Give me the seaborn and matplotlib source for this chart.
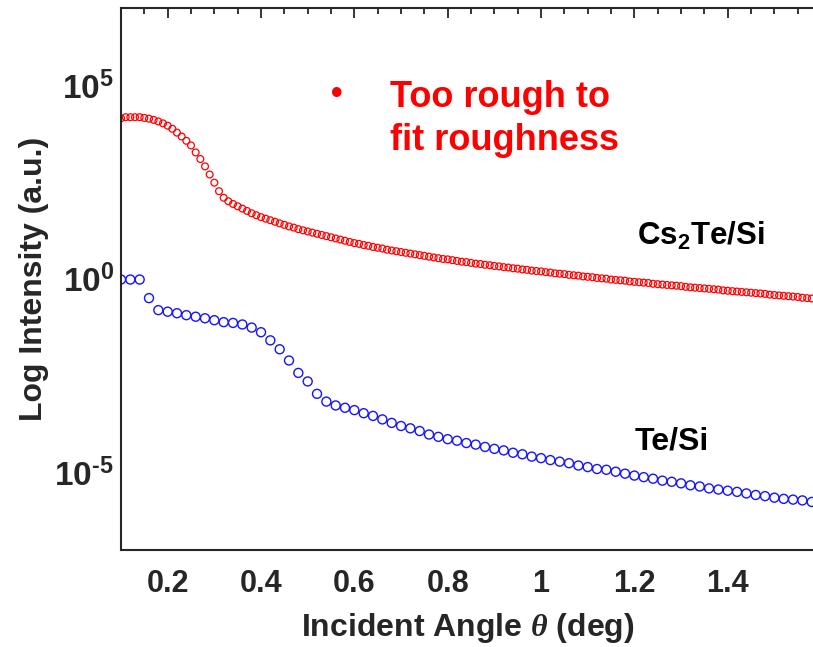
import numpy as np
import pandas as pd
import matplotlib
matplotlib.use("Agg")
import matplotlib.pyplot as plt
import seaborn as sns
from matplotlib.ticker import FixedLocator, FixedFormatter, MultipleLocator, NullFormatter

# ---------------- data ----------------
angle_cs2te = [
    0.10, 0.11, 0.12, 0.13, 0.14, 0.15, 0.16, 0.17, 0.18, 0.19,
    0.20, 0.21, 0.22, 0.23, 0.24, 0.25, 0.26, 0.27, 0.28, 0.29,
    0.30, 0.31, 0.32, 0.33, 0.34, 0.35, 0.36, 0.37, 0.38, 0.39,
    0.40, 0.41, 0.42, 0.43, 0.44, 0.45, 0.46, 0.47, 0.48, 0.49,
    0.50, 0.51, 0.52, 0.53, 0.54, 0.55, 0.56, 0.57, 0.58, 0.59,
    0.60, 0.61, 0.62, 0.63, 0.64, 0.65, 0.66, 0.67, 0.68, 0.69,
    0.70, 0.71, 0.72, 0.73, 0.74, 0.75, 0.76, 0.77, 0.78, 0.79,
    0.80, 0.81, 0.82, 0.83, 0.84, 0.85, 0.86, 0.87, 0.88, 0.89,
    0.90, 0.91, 0.92, 0.93, 0.94, 0.95, 0.96, 0.97, 0.98, 0.99,
    1.00, 1.01, 1.02, 1.03, 1.04, 1.05, 1.06, 1.07, 1.08, 1.09,
    1.10, 1.11, 1.12, 1.13, 1.14, 1.15, 1.16, 1.17, 1.18, 1.19,
    1.20, 1.21, 1.22, 1.23, 1.24, 1.25, 1.26, 1.27, 1.28, 1.29,
    1.30, 1.31, 1.32, 1.33, 1.34, 1.35, 1.36, 1.37, 1.38, 1.39,
    1.40, 1.41, 1.42, 1.43, 1.44, 1.45, 1.46, 1.47, 1.48, 1.49,
    1.50, 1.51, 1.52, 1.53, 1.54, 1.55, 1.56, 1.57, 1.58,
]
log_intensity_cs2te = [
    4.14, 4.17, 4.17, 4.17, 4.17, 4.15, 4.13, 4.10, 4.06, 4.01,
    3.95, 3.87, 3.77, 3.67, 3.56, 3.44, 3.26, 3.09, 2.90, 2.69,
    2.48, 2.26, 2.09, 2.00, 1.93, 1.87, 1.81, 1.75, 1.69, 1.64,
    1.59, 1.55, 1.51, 1.47, 1.43, 1.39, 1.35, 1.32, 1.28, 1.25,
    1.22, 1.19, 1.16, 1.13, 1.10, 1.07, 1.04, 1.01, 0.98, 0.95,
    0.92, 0.90, 0.87, 0.85, 0.82, 0.80, 0.78, 0.75, 0.73, 0.71,
    0.69, 0.67, 0.65, 0.63, 0.61, 0.59, 0.57, 0.55, 0.53, 0.51,
    0.50, 0.48, 0.46, 0.44, 0.43, 0.41, 0.39, 0.38, 0.36, 0.35,
    0.33, 0.32, 0.30, 0.29, 0.27, 0.26, 0.24, 0.23, 0.21, 0.20,
    0.19, 0.17, 0.16, 0.14, 0.13, 0.12, 0.10, 0.09, 0.08, 0.06,
    0.05, 0.04, 0.02, 0.01, 0.00, -0.02, -0.03, -0.04, -0.05, -0.07,
    -0.08, -0.09, -0.10, -0.11, -0.13, -0.14, -0.15, -0.16, -0.17, -0.18,
    -0.19, -0.21, -0.22, -0.23, -0.24, -0.25, -0.26, -0.27, -0.28, -0.30,
    -0.31, -0.32, -0.33, -0.34, -0.35, -0.36, -0.37, -0.38, -0.39, -0.41,
    -0.42, -0.43, -0.44, -0.45, -0.46, -0.47, -0.49, -0.50, -0.51,
]

angle_te = [
    0.10, 0.12, 0.14, 0.16, 0.18, 0.20, 0.22, 0.24, 0.26, 0.28,
    0.30, 0.32, 0.34, 0.36, 0.38, 0.40, 0.42, 0.44, 0.46, 0.48,
    0.50, 0.52, 0.54, 0.56, 0.58, 0.60, 0.62, 0.64, 0.66, 0.68,
    0.70, 0.72, 0.74, 0.76, 0.78, 0.80, 0.82, 0.84, 0.86, 0.88,
    0.90, 0.92, 0.94, 0.96, 0.98, 1.00, 1.02, 1.04, 1.06, 1.08,
    1.10, 1.12, 1.14, 1.16, 1.18, 1.20, 1.22, 1.24, 1.26, 1.28,
    1.30, 1.32, 1.34, 1.36, 1.38, 1.40, 1.42, 1.44, 1.46, 1.48,
    1.50, 1.52, 1.54, 1.56, 1.58,
]
log_intensity_te = [
    -0.02, -0.02, -0.02, -0.50, -0.81, -0.85, -0.89, -0.94, -0.98, -1.02,
    -1.07, -1.12, -1.14, -1.18, -1.26, -1.38, -1.59, -1.82, -2.11, -2.43,
    -2.65, -2.97, -3.17, -3.27, -3.33, -3.39, -3.47, -3.54, -3.63, -3.72,
    -3.80, -3.86, -3.93, -4.02, -4.08, -4.14, -4.18, -4.24, -4.28, -4.34,
    -4.39, -4.43, -4.49, -4.53, -4.59, -4.63, -4.68, -4.72, -4.76, -4.82,
    -4.86, -4.91, -4.93, -4.98, -5.03, -5.08, -5.12, -5.16, -5.21, -5.24,
    -5.28, -5.33, -5.36, -5.41, -5.44, -5.47, -5.50, -5.54, -5.58, -5.61,
    -5.65, -5.68, -5.70, -5.72, -5.76,
]

x_tick_values = [0.2, 0.4, 0.6, 0.8, 1.0, 1.2, 1.4]
x_tick_labels = ["0.2", "0.4", "0.6", "0.8", "1", "1.2", "1.4"]
y_tick_values = [1e-5, 1e0, 1e5]
y_tick_labels = ["$\\mathbf{10^{\u2010 5}}$", r"$\mathbf{10^{0}}$", r"$\mathbf{10^{5}}$"]
y_minor_values = [10.0 ** k for k in range(-7, 8)]

# ---------------- style ----------------
sns.set_theme(style="white")
plt.rcParams["font.family"] = ["Liberation Sans", "DejaVu Sans"]
plt.rcParams["font.weight"] = "bold"
plt.rcParams["mathtext.fontset"] = "custom"
plt.rcParams["mathtext.rm"] = "Liberation Sans:bold"
plt.rcParams["mathtext.bf"] = "Liberation Sans:bold"
plt.rcParams["mathtext.it"] = "Liberation Serif:italic"
plt.rcParams["mathtext.default"] = "bf"
plt.rcParams["axes.unicode_minus"] = False

dark = "#262626"

df_cs = pd.DataFrame({"angle": angle_cs2te,
                      "intensity": 10.0 ** np.array(log_intensity_cs2te)})
df_te = pd.DataFrame({"angle": angle_te,
                      "intensity": 10.0 ** np.array(log_intensity_te)})

fig = plt.figure(figsize=(8.13, 6.47), dpi=100)
ax = fig.add_axes([121 / 813, 97 / 647, 694 / 813, 542.5 / 647])
ax.set_yscale("log")

sns.scatterplot(data=df_cs, x="angle", y="intensity", ax=ax, marker="o", s=24,
                facecolors="none", edgecolor="#FF0000", linewidth=0.9, legend=False)
sns.scatterplot(data=df_te, x="angle", y="intensity", ax=ax, marker="o", s=42,
                facecolors="none", edgecolor="#1414FF", linewidth=1.0, legend=False)

ax.set_xlim(0.1, 0.1 + 694 / 466.7)
ax.set_ylim(1e-7, 1e7)

ax.xaxis.set_major_locator(FixedLocator(x_tick_values))
ax.xaxis.set_major_formatter(FixedFormatter(x_tick_labels))
ax.xaxis.set_minor_locator(MultipleLocator(0.05))
ax.yaxis.set_major_locator(FixedLocator(y_tick_values))
ax.yaxis.set_major_formatter(FixedFormatter(y_tick_labels))
ax.yaxis.set_minor_locator(FixedLocator(y_minor_values))
ax.yaxis.set_minor_formatter(NullFormatter())

ax.tick_params(which="both", direction="in", top=True, right=False,
               color=dark, width=1.3, labelcolor=dark)
ax.tick_params(which="major", length=7)
ax.tick_params(which="minor", length=4)
ax.tick_params(axis="x", which="major", labelsize=22, pad=14)
ax.tick_params(axis="y", which="major", labelsize=24, pad=5)

for sp in ax.spines.values():
    sp.set_color(dark)
    sp.set_linewidth(1.5)
    sp.set_visible(True)

ax.set_xlabel(r"Incident Angle $\mathit{\theta}$ (deg)", fontsize=23,
              fontweight="bold", color=dark, labelpad=8)
ax.set_ylabel("Log Intensity (a.u.)", fontsize=23, fontweight="bold",
              color=dark, labelpad=4)

# annotations
ax.text(0.562, 10 ** 4.76, "\u2022", color="#FF0000", fontsize=24,
        ha="center", va="center", fontweight="bold")
ax.text(0.676, 10 ** 4.44, "Too rough to", color="#FF0000", fontsize=26,
        fontweight="bold", ha="left", va="baseline")
ax.text(0.676, 10 ** 3.32, "fit roughness", color="#FF0000", fontsize=26,
        fontweight="bold", ha="left", va="baseline")
ax.text(1.206, 10 ** 0.866, r"$\mathbf{Cs_{2}Te/Si}$", color="black", fontsize=22.5,
        ha="left", va="baseline")
ax.text(1.201, 10 ** -4.41, "Te/Si", color="black", fontsize=23,
        fontweight="bold", ha="left", va="baseline")

fig.savefig("out.png", dpi=100)
